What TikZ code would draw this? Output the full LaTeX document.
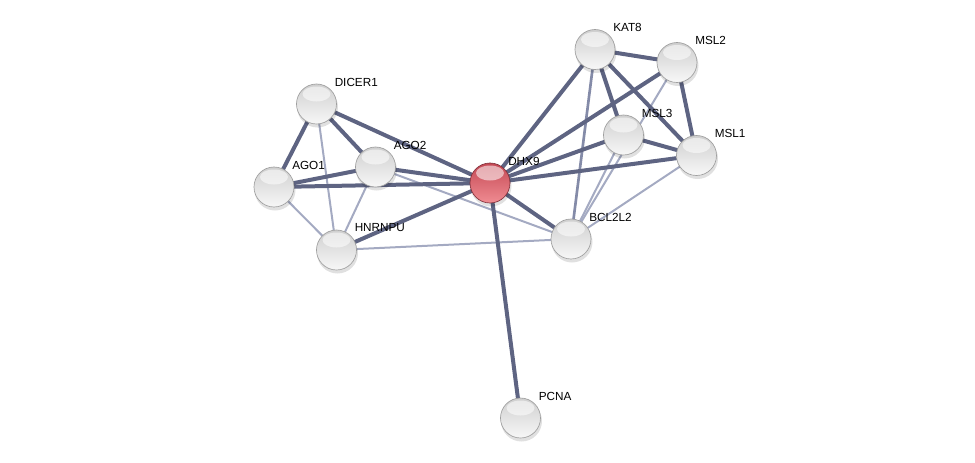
\documentclass[tikz,border=0pt]{standalone}
\usepackage{fontspec}
\setmainfont{Liberation Sans}
\usetikzlibrary{calc}
\definecolor{edgedark}{RGB}{94,100,130}
\definecolor{edgemid}{RGB}{132,139,168}
\definecolor{edgelight}{RGB}{164,170,194}
\definecolor{redtop}{RGB}{196,72,84}
\definecolor{redbot}{RGB}{240,140,146}
\begin{document}
\begin{tikzpicture}[x=0.75pt,y=-0.75pt,
  prot/.style={circle,minimum size=30pt,inner sep=0pt,top color=gray!38,bottom color=gray!6,draw=gray!75,line width=0.5pt},
  hub/.style={prot,top color=redtop,bottom color=redbot,draw={rgb,255:red,130;green,50;blue,60}},
  shine/.style={white,opacity=0.55},
  lbl/.style={anchor=west,inner sep=0pt,font=\fontsize{8.8}{10}\selectfont},
  strong/.style={draw=edgedark,line width=3pt},
  mid/.style={draw=edgemid,line width=2pt},
  weak/.style={draw=edgelight,line width=1.5pt}]
\useasboundingbox (0,0) rectangle (975,462);
% coordinates of centers
\coordinate (cDICER1) at (316.5,104);
\coordinate (cAGO2) at (375.5,167);
\coordinate (cAGO1) at (274,187);
\coordinate (cHNRNPU) at (336.5,250);
\coordinate (cDHX9) at (490,183);
\coordinate (cKAT8) at (595,49.5);
\coordinate (cMSL2) at (677,62.5);
\coordinate (cMSL3) at (623.5,135);
\coordinate (cMSL1) at (696.5,155.5);
\coordinate (cBCL2L2) at (571,239);
\coordinate (cPCNA) at (520.5,418);
% edges
\begin{scope}[line cap=round]
\draw[weak] (cDICER1) -- (cHNRNPU);
\draw[weak] (cAGO1) -- (cHNRNPU);
\draw[weak] (cAGO2) -- (cHNRNPU);
\draw[weak] (cAGO2) -- (cBCL2L2);
\draw[weak] (cHNRNPU) -- (cBCL2L2);
\draw[weak] (cMSL3) -- (cBCL2L2);
\draw[weak] (cMSL2) -- (cBCL2L2);
\draw[weak] (cMSL1) -- (cBCL2L2);
\draw[mid] (cKAT8) -- (cBCL2L2);
\draw[strong] (cDICER1) -- (cAGO1);
\draw[strong] (cDICER1) -- (cAGO2);
\draw[strong] (cDICER1) -- (cDHX9);
\draw[strong] (cAGO2) -- (cAGO1);
\draw[strong] (cAGO2) -- (cDHX9);
\draw[strong] (cAGO1) -- (cDHX9);
\draw[strong] (cHNRNPU) -- (cDHX9);
\draw[strong] (cDHX9) -- (cPCNA);
\draw[strong] (cDHX9) -- (cKAT8);
\draw[strong] (cDHX9) -- (cMSL2);
\draw[strong] (cDHX9) -- (cMSL3);
\draw[strong] (cDHX9) -- (cMSL1);
\draw[strong] (cDHX9) -- (cBCL2L2);
\draw[strong] (cKAT8) -- (cMSL2);
\draw[strong] (cKAT8) -- (cMSL3);
\draw[strong] (cKAT8) -- (cMSL1);
\draw[strong] (cMSL2) -- (cMSL1);
\draw[strong] (cMSL3) -- (cMSL1);
\end{scope}
% shadows
\foreach \n in {DICER1,AGO2,AGO1,HNRNPU,DHX9,KAT8,MSL2,MSL3,MSL1,BCL2L2,PCNA}
  \fill[black,opacity=0.12] ($(c\n)+(1,3)$) circle (20.5);
% nodes
\node[prot] (DICER1) at (cDICER1) {};
\node[prot] (AGO2) at (cAGO2) {};
\node[prot] (AGO1) at (cAGO1) {};
\node[prot] (HNRNPU) at (cHNRNPU) {};
\node[hub] (DHX9) at (cDHX9) {};
\node[prot] (KAT8) at (cKAT8) {};
\node[prot] (MSL2) at (cMSL2) {};
\node[prot] (MSL3) at (cMSL3) {};
\node[prot] (MSL1) at (cMSL1) {};
\node[prot] (BCL2L2) at (cBCL2L2) {};
\node[prot] (PCNA) at (cPCNA) {};
% highlights
\foreach \n in {DICER1,AGO2,AGO1,HNRNPU,DHX9,KAT8,MSL2,MSL3,MSL1,BCL2L2,PCNA}
  \fill[shine] ($(c\n)+(0,-10)$) ellipse (14 and 7.5);
% labels
\foreach \n in {DICER1,AGO2,AGO1,HNRNPU,DHX9,KAT8,MSL2,MSL3,MSL1,BCL2L2,PCNA}
  \node[lbl] (l\n) at ($(c\n)+(18,-22)$) {\n};
\end{tikzpicture}
\end{document}
